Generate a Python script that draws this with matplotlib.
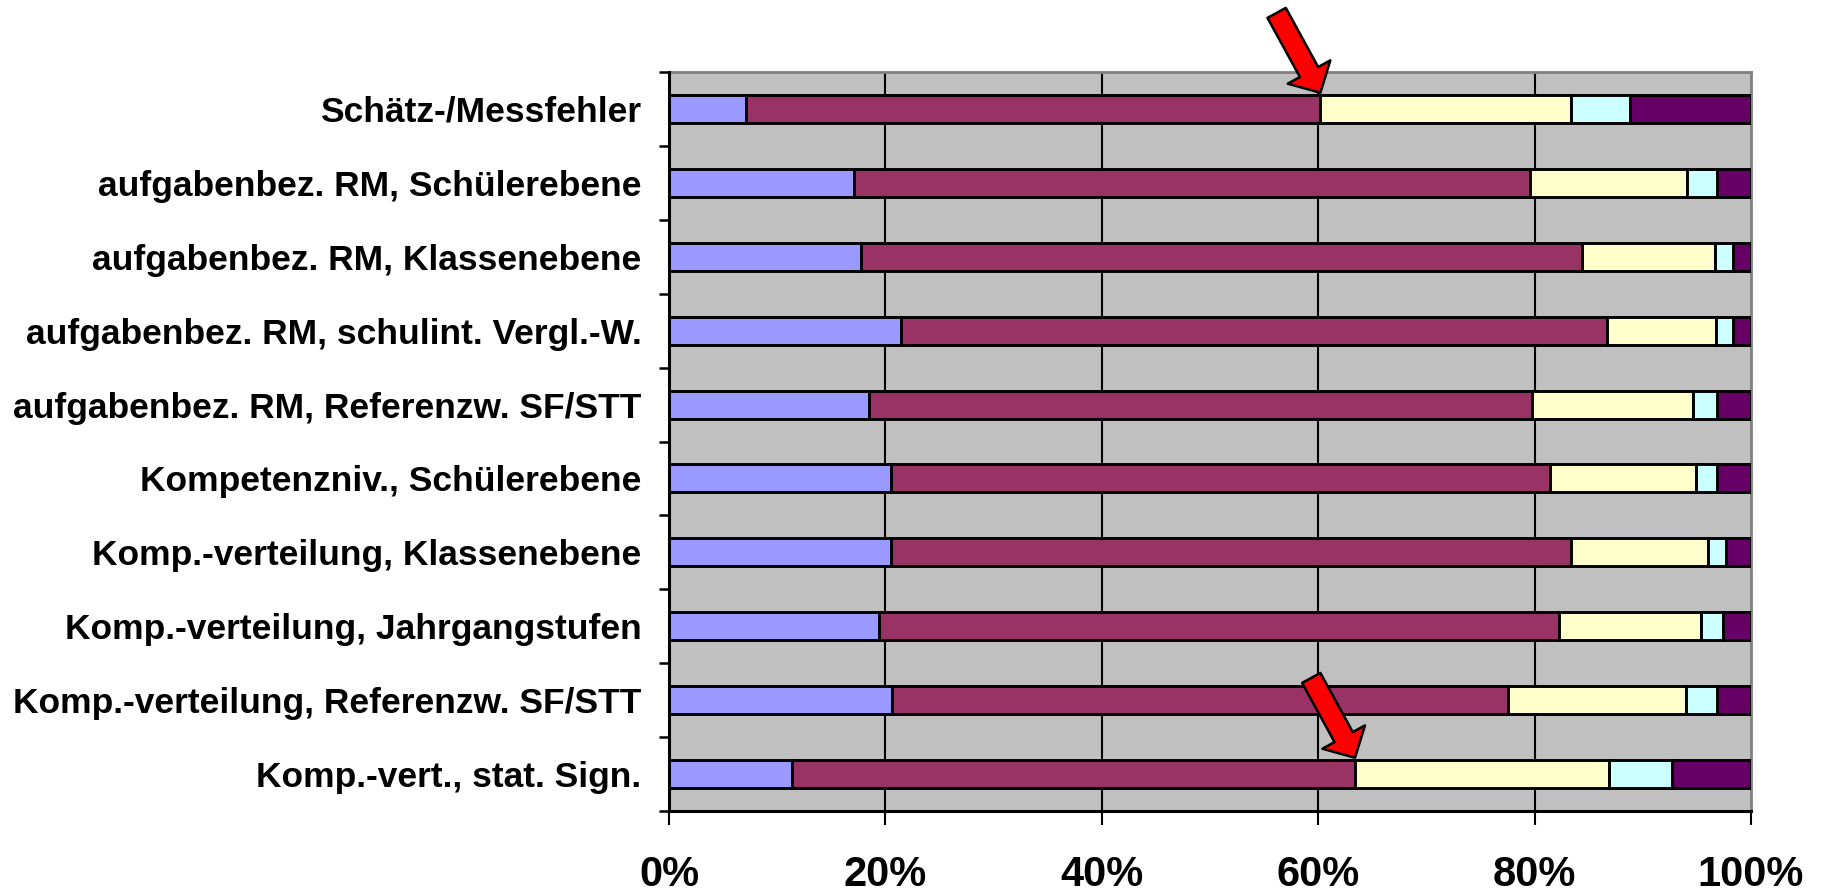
import matplotlib
matplotlib.use("Agg")
import matplotlib.pyplot as plt
import numpy as np
from matplotlib.ticker import FixedLocator, FuncFormatter

# Categories, top to bottom
categories = [
    "Schätz-/Messfehler",
    "aufgabenbez. RM, Schülerebene",
    "aufgabenbez. RM, Klassenebene",
    "aufgabenbez. RM, schulint. Vergl.-W.",
    "aufgabenbez. RM, Referenzw. SF/STT",
    "Kompetenzniv., Schülerebene",
    "Komp.-verteilung, Klassenebene",
    "Komp.-verteilung, Jahrgangstufen",
    "Komp.-verteilung, Referenzw. SF/STT",
    "Komp.-vert., stat. Sign.",
]

# Percentage shares per answer category (each row sums to 100)
share_1 = [7.1, 17.1, 17.7, 21.4, 18.5, 20.5, 20.5, 19.4, 20.6, 11.4]
share_2 = [53.1, 62.5, 66.7, 65.3, 61.3, 60.9, 62.9, 62.9, 56.9, 52.0]
share_3 = [23.2, 14.5, 12.3, 10.1, 14.8, 13.5, 12.6, 13.1, 16.5, 23.5]
share_4 = [5.4, 2.8, 1.6, 1.5, 2.3, 2.0, 1.7, 2.0, 2.9, 5.8]
share_5 = [11.2, 3.1, 1.7, 1.7, 3.1, 3.1, 2.3, 2.6, 3.1, 7.3]

x_ticks = [0, 20, 40, 60, 80, 100]
highlighted_rows = [0, 9]

colors = ["#9999FF", "#993366", "#FFFFCC", "#CCFFFF", "#660066"]
series = [share_1, share_2, share_3, share_4, share_5]

label_font = ["Liberation Sans", "DejaVu Sans"]

fig = plt.figure(figsize=(18.27, 8.96), dpi=100)
ax = fig.add_axes([0.3662, 0.0949, 0.5922, 0.8247])
ax.set_facecolor("#C0C0C0")

y = np.arange(len(categories))
bar_h = 0.38
left = np.zeros(len(categories))
for vals, col in zip(series, colors):
    v = np.array(vals)
    ax.barh(y, v, left=left, height=bar_h, color=col, edgecolor="black",
            linewidth=2.1, zorder=3)
    left += v

ax.set_xlim(0, 100)
ax.set_ylim(len(categories) - 0.5, -0.5)

# vertical gridlines
for xv in x_ticks[1:-1]:
    ax.axvline(xv, color="black", linewidth=1.5, zorder=1)

# x axis
ax.xaxis.set_major_locator(FixedLocator(x_ticks))
ax.xaxis.set_major_formatter(FuncFormatter(lambda v, p: f"{int(round(v))}%"))
ax.tick_params(axis="x", which="major", direction="out", length=10, width=1.5,
               color="black", pad=22)
for lab in ax.get_xticklabels():
    lab.set_family(label_font)
    lab.set_fontweight("bold")
    lab.set_fontsize(30)

# y axis: labels at bar centres, tick marks at category boundaries
ax.set_yticks(y)
ax.set_yticklabels(categories)
ax.tick_params(axis="y", which="major", length=0, pad=20)
ax.yaxis.set_minor_locator(FixedLocator(np.arange(-0.5, len(categories), 1.0)))
ax.tick_params(axis="y", which="minor", direction="out", length=7, width=1.8,
               color="black")
for lab in ax.get_yticklabels():
    lab.set_family(label_font)
    lab.set_fontweight("bold")
    lab.set_fontsize(25.5)

for side in ["left", "bottom"]:
    ax.spines[side].set_color("black")
    ax.spines[side].set_linewidth(2.2)
for side in ["top", "right"]:
    ax.spines[side].set_color("#808080")
    ax.spines[side].set_linewidth(2.0)
ax.spines["left"].set_zorder(4)
ax.spines["bottom"].set_zorder(4)

# red arrows pointing at the end of the second segment
cum2 = np.array(share_1) + np.array(share_2)
for r in highlighted_rows:
    ax.annotate("", xy=(cum2[r], r - bar_h / 2 - 0.03), xycoords="data",
                xytext=(-31.5, 57.5), textcoords="offset points",
                arrowprops=dict(arrowstyle="simple,head_length=17,head_width=35,tail_width=15",
                                mutation_scale=1, fc="#FF0000", ec="black",
                                lw=1.8, shrinkA=0, shrinkB=0),
                zorder=6, annotation_clip=False)

fig.savefig("out.png", dpi=100)
